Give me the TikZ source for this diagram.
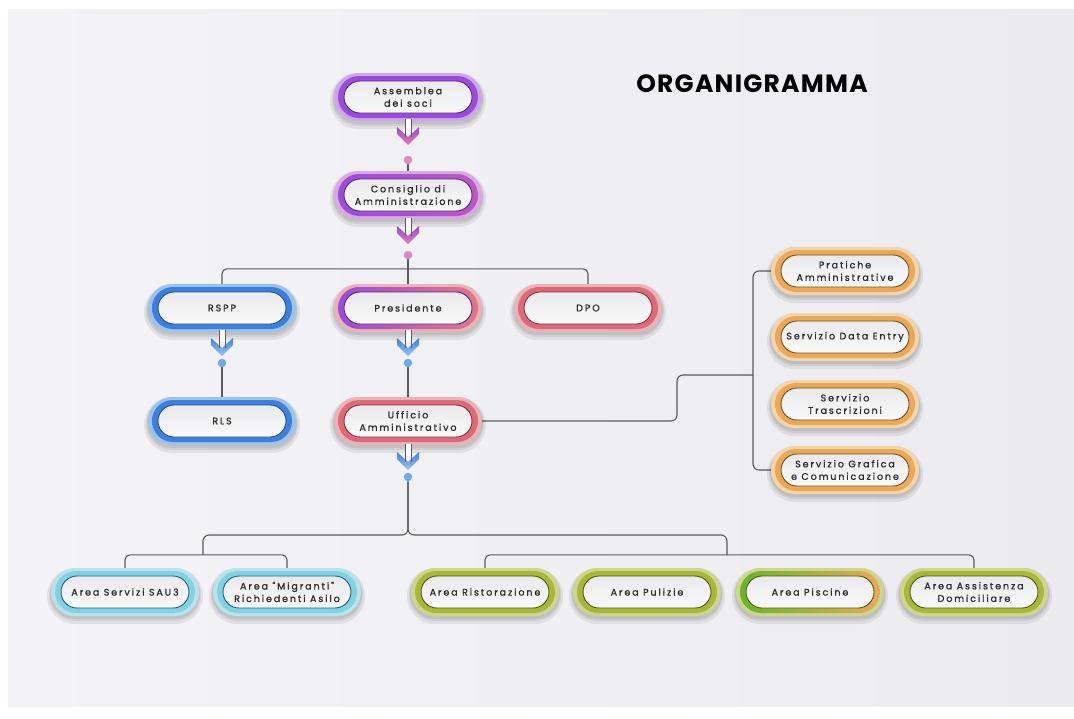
\documentclass[tikz,border=0pt]{standalone}
\usepackage{fontspec}
\usetikzlibrary{calc}
\newfontfamily\boxfont[LetterSpace=20,FakeBold=1.2]{Poppins}
\newfontfamily\titlefont[LetterSpace=5]{Poppins}
\definecolor{bgA}{HTML}{F4F4F7}
\definecolor{bgB}{HTML}{ECECF0}
\definecolor{boxtop}{HTML}{EAEAED}
\definecolor{boxbot}{HTML}{FAFAFA}
\definecolor{txt}{HTML}{2E2E2E}
\definecolor{conncol}{HTML}{5A5A5E}
\definecolor{purR}{HTML}{9A4DD6}
\definecolor{purG}{HTML}{CDA6EE}
\definecolor{purD}{HTML}{5B2385}
\definecolor{magR}{HTML}{B85BC0}
\definecolor{magG}{HTML}{DDA8E2}
\definecolor{bluR}{HTML}{3E7FD9}
\definecolor{bluG}{HTML}{9CC2EE}
\definecolor{bluD}{HTML}{1B4F9A}
\definecolor{pinR}{HTML}{E07886}
\definecolor{redR}{HTML}{DA6B78}
\definecolor{redG}{HTML}{EDB2B9}
\definecolor{redD}{HTML}{8E2A37}
\definecolor{oraR}{HTML}{E9A95C}
\definecolor{oraG}{HTML}{F4D4A8}
\definecolor{oraD}{HTML}{7A4A1A}
\definecolor{teaR}{HTML}{86D0E3}
\definecolor{teaG}{HTML}{B8E2EE}
\definecolor{teaD}{HTML}{16657C}
\definecolor{grnR}{HTML}{A9B83A}
\definecolor{grnG}{HTML}{CDD68C}
\definecolor{grnD}{HTML}{4E5A0C}
\definecolor{limR}{HTML}{67B52A}
\definecolor{dotP}{HTML}{D88BC4}
\definecolor{dotB}{HTML}{6FA9EC}
\definecolor{glyP}{HTML}{E27AAE}
\definecolor{glyB}{HTML}{9CC6F2}
\pgfdeclarelayer{back}
\pgfdeclarelayer{bg}
\pgfsetlayers{back,bg,main}
\tikzset{
  boxtext/.style={inner sep=0pt, align=center, text=txt, font=\boxfont\fontsize{9.5}{12.5}\selectfont},
  conn/.style={draw=conncol, line width=1.1pt},
  pdot/.style={circle, fill=#1, inner sep=0pt, minimum size=8.5pt},
  glyline/.style={draw=conncol, line width=0.8pt},
  shadowlayer/.style={fill=black, opacity=0.07},
}
\newcommand\orgbox[8]{%
  \begin{scope}[shift={(#2,#3)}]
    \fill[shadowlayer, rounded corners=28pt] (-78,-24) rectangle (78,32);
    \fill[shadowlayer, rounded corners=26pt] (-76,-23) rectangle (76,29);
    \fill[shadowlayer, rounded corners=25pt] (-75,-23) rectangle (75,27);
    \fill[#6, rounded corners=24pt] (-74,-24) rectangle (74,24);
    \shade[left color=#4, right color=#5, rounded corners=21pt] (-70,-21) rectangle (70,21);
    \shadedraw[top color=boxtop, bottom color=boxbot, rounded corners=16pt, draw=#7, line width=0.9pt] (-64,-16) rectangle (64,16);
  \end{scope}
  \node[boxtext, minimum width=140pt, minimum height=42pt] (#1) at (#2,#3) {#8};
}
\newcommand\dnglyph[4]{%
  \begin{scope}[shift={(#1,#2)}]
    \fill[white] (-3,0) rectangle (3,12);
    \shade[top color=#3, bottom color=#4] (-11,8) -- (0,18) -- (11,8) -- (11,15) -- (0,26) -- (-11,15) -- cycle;
    \draw[glyline] (-3,0) -- (-3,18) (3,0) -- (3,18);
  \end{scope}}
\begin{document}
\begin{tikzpicture}[x=1pt,y=-1pt]
\useasboundingbox (0,0) rectangle (1074,718);
\begin{pgfonlayer}{back}
  \fill[white] (0,0) rectangle (1074,718);
  \shade[left color=bgA, right color=bgB] (8,9) rectangle (1074,706);
\end{pgfonlayer}

\node[font=\titlefont\bfseries\fontsize{25}{30}\selectfont, text=black] (ttl) at (752,84) {ORGANIGRAMMA};

\orgbox{ass}{408}{97}{purR}{purR}{purG}{purD}{Assemblea\\dei soci}
\orgbox{cons}{408}{195}{purR}{magR}{magG}{purD}{Consiglio di\\Amministrazione}
\orgbox{rspp}{222}{308}{bluR}{bluR}{bluG}{bluD}{RSPP}
\orgbox{pres}{408}{308}{purR}{pinR}{redG}{purD}{Presidente}
\orgbox{dpo}{588}{308}{redR}{redR}{redG}{redD}{DPO}
\orgbox{rls}{222}{421}{bluR}{bluR}{bluG}{bluD}{RLS}
\orgbox{uff}{408}{421}{redR}{redR}{redG}{redD}{Ufficio\\Amministrativo}

\orgbox{prat}{845}{271}{oraR}{oraR}{oraG}{oraD}{Pratiche\\Amministrative}
\orgbox{data}{845}{337}{oraR}{oraR}{oraG}{oraD}{Servizio Data Entry}
\orgbox{tras}{845}{404}{oraR}{oraR}{oraG}{oraD}{Servizio\\Trascrizioni}
\orgbox{graf}{845}{470}{oraR}{oraR}{oraG}{oraD}{Servizio Grafica\\e Comunicazione}

\orgbox{sau}{125}{592}{teaR}{teaR}{teaG}{teaD}{Area Servizi SAU3}
\orgbox{migr}{287}{592}{teaR}{teaR}{teaG}{teaD}{Area "Migranti"\\Richiedenti Asilo}
\orgbox{rist}{485}{592}{grnR}{grnR}{grnG}{grnD}{Area Ristorazione}
\orgbox{pul}{647}{592}{grnR}{grnR}{grnG}{grnD}{Area Pulizie}
\orgbox{pisc}{810}{592}{limR}{oraR}{grnG}{grnD}{Area Piscine}
\orgbox{assi}{974}{592}{grnR}{grnR}{grnG}{grnD}{Area Assistenza\\Domiciliare}

% glyphs
\dnglyph{408}{119}{purR}{glyP}
\dnglyph{408}{218}{purR}{glyP}
\dnglyph{222}{330}{bluR}{glyB}
\dnglyph{408}{330}{bluR}{glyB}
\dnglyph{408}{444}{bluR}{glyB}

% dots
\node[pdot=dotP] (d1) at (408,160) {};
\node[pdot=dotP] (d2) at (408,255) {};
\node[pdot=dotB] (d3) at (222,363) {};
\node[pdot=dotB] (d4) at (408,363) {};
\node[pdot=dotB] (d5) at (408,477) {};

\coordinate (jL) at (203,555);
\coordinate (jR) at (727,555);
\coordinate (k1) at (677,375);
\coordinate (k2) at (753,375);

\begin{pgfonlayer}{bg}
  \draw[conn] (d1) -- (cons.north);
  \draw[conn] (d2) -- (pres.north);
  \draw[conn, rounded corners=5pt] (rspp.north) -- ++(0,-18) -| (dpo.north);
  \draw[conn] (d3) -- (rls.north);
  \draw[conn] (d4) -- (uff.north);
  \draw[conn, rounded corners=6pt] (uff.east) -| (k1) -- (k2);
  \draw[conn, rounded corners=6pt] (prat.west) -| (k2) |- (graf.west);
  \draw[conn, rounded corners=6pt] (d5) |- ($(jL)+(0,-20)$) -- (jL);
  \draw[conn, rounded corners=6pt] (d5) |- ($(jR)+(0,-20)$) -- (jR);
  \draw[conn, rounded corners=5pt] (sau.north) -- ++(0,-16) -| (migr.north);
  \draw[conn, rounded corners=5pt] (rist.north) -- ++(0,-16) -| (assi.north);
\end{pgfonlayer}
\end{tikzpicture}
\end{document}
